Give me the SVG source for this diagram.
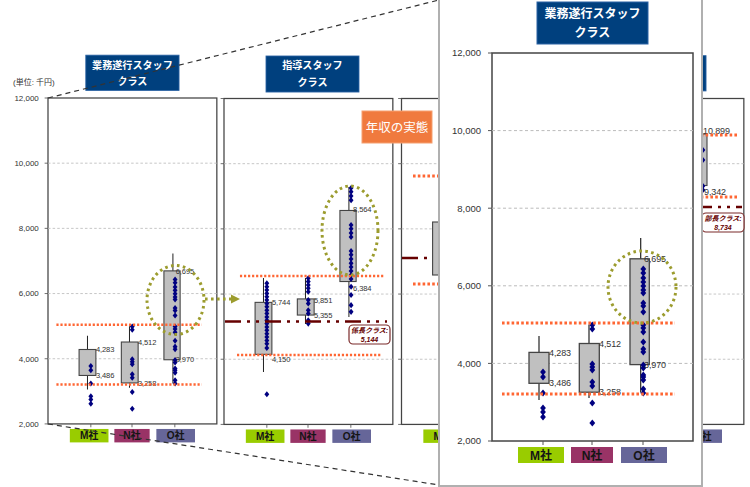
<svg xmlns="http://www.w3.org/2000/svg" width="750" height="487" viewBox="0 0 750 487">
<style>
.tk{font-family:'Liberation Sans',sans-serif;font-size:9.5px;fill:#333;text-anchor:end}
.vl{font-family:'Liberation Sans',sans-serif;font-size:9px;fill:#333;letter-spacing:-0.1px}
.cat{font-family:'Liberation Sans','Noto Sans CJK JP',sans-serif;font-size:12px;font-weight:bold;fill:#151515;text-anchor:middle}
.ttl{font-family:'Noto Sans CJK JP',sans-serif;font-size:12px;font-weight:bold;fill:#fff;text-anchor:middle}
.tbox{fill:#00407e;stroke:#2a62a4;stroke-width:1}
.wh line{stroke:#222;stroke-width:1.2}
.bx rect{fill:#c0c0c0;stroke:#444;stroke-width:1.3}
.or{stroke:#ff6633;stroke-width:3;stroke-dasharray:2.6,2.2;fill:none}
.gr{fill:none;stroke:#9c9c2e;stroke-width:3;stroke-dasharray:2.6,3.4}
.dd{stroke:#660000;stroke-width:2.6;stroke-dasharray:16,6,3,6,3,6;fill:none}
.lb{fill:#fff;stroke:#7b2a2a;stroke-width:1.2}
.lbt{font-family:'Liberation Sans','Noto Sans CJK JP',sans-serif;font-size:7px;font-weight:bold;font-style:italic;fill:#660000;text-anchor:middle}
.cn{stroke:#333;stroke-width:1.2;stroke-dasharray:5,4;fill:none}
</style>
<defs>
<path id="dm" d="M0,-3.6L2.9,0L0,3.6L-2.9,0Z" fill="#000080"/>
<g id="frame">
<rect x="0" y="0" width="201" height="388" fill="#fff" stroke="#444" stroke-width="1.5"/>
<g stroke="#bbb" stroke-width="1" stroke-dasharray="3,2.5">
<line x1="0" y1="77.6" x2="201" y2="77.6"/>
<line x1="0" y1="155.2" x2="201" y2="155.2"/>
<line x1="0" y1="232.8" x2="201" y2="232.8"/>
<line x1="0" y1="310.4" x2="201" y2="310.4"/>
</g>
<path d="M-4,0H0M-4,77.6H0M-4,155.2H0M-4,232.8H0M-4,310.4H0M-4,388H0M51,388V392M100,388V392M151,388V392" stroke="#555" stroke-width="1"/>
<rect x="26" y="394" width="46" height="16" fill="#99cc00"/>
<rect x="79" y="394" width="42" height="16" fill="#993366"/>
<rect x="129" y="394" width="46" height="16" fill="#666699"/>
<text class="cat" x="49" y="406.5">M社</text>
<text class="cat" x="100" y="406.5">N社</text>
<text class="cat" x="152" y="406.5">O社</text>
</g>
<g id="chartA">
<use href="#frame"/>
<g>
<text class="tk" x="-11" y="3.4">12,000</text>
<text class="tk" x="-11" y="81">10,000</text>
<text class="tk" x="-11" y="158.6">8,000</text>
<text class="tk" x="-11" y="236.2">6,000</text>
<text class="tk" x="-11" y="313.8">4,000</text>
<text class="tk" x="-11" y="391.4">2,000</text>
</g>
<rect class="tbox" x="45" y="-51" width="111" height="42"/>
<text class="ttl" x="100.5" y="-34.7">業務遂行スタッフ</text>
<text class="ttl" x="100.5" y="-15.7">クラス</text>
<g class="wh">
<line x1="47" y1="283" x2="47" y2="347"/>
<line x1="97" y1="271.6" x2="97" y2="345"/>
<line x1="148.7" y1="185" x2="148.7" y2="339.5"/>
</g>
<g class="bx">
<rect x="37" y="299.4" width="20" height="30.9"/>
<rect x="87.3" y="290.5" width="20" height="48.7"/>
<rect x="138" y="205.8" width="19.3" height="105.8"/>
</g>
<g>
<use href="#dm" x="51" y="319"/><use href="#dm" x="51" y="324"/><use href="#dm" x="51" y="340"/><use href="#dm" x="51" y="355"/><use href="#dm" x="51" y="359"/><use href="#dm" x="51" y="364"/>
<use href="#dm" x="100.3" y="272"/><use href="#dm" x="100.3" y="276"/><use href="#dm" x="100.3" y="311"/><use href="#dm" x="100.3" y="314"/><use href="#dm" x="100.3" y="317"/><use href="#dm" x="100.3" y="329"/><use href="#dm" x="100.3" y="333"/><use href="#dm" x="100.3" y="350"/><use href="#dm" x="100.3" y="370"/>
<use href="#dm" x="151.3" y="216"/><use href="#dm" x="151.3" y="220"/><use href="#dm" x="151.3" y="225"/><use href="#dm" x="151.3" y="229"/><use href="#dm" x="151.3" y="233"/><use href="#dm" x="151.3" y="237"/><use href="#dm" x="151.3" y="240"/><use href="#dm" x="151.3" y="250"/><use href="#dm" x="151.3" y="253"/><use href="#dm" x="151.3" y="259"/><use href="#dm" x="151.3" y="272"/><use href="#dm" x="151.3" y="275"/><use href="#dm" x="151.3" y="279"/><use href="#dm" x="151.3" y="289"/><use href="#dm" x="151.3" y="296"/><use href="#dm" x="151.3" y="299"/><use href="#dm" x="151.3" y="312"/><use href="#dm" x="151.3" y="315"/><use href="#dm" x="151.3" y="322"/><use href="#dm" x="151.3" y="324"/><use href="#dm" x="151.3" y="327"/><use href="#dm" x="151.3" y="336"/><use href="#dm" x="151.3" y="340"/>
</g>
<g>
<text class="vl" x="57" y="302.6">4,283</text>
<text class="vl" x="57" y="333.4">3,486</text>
<text class="vl" x="107" y="293.7">4,512</text>
<text class="vl" x="107" y="342.4">3,258</text>
<text class="vl" x="152" y="209">6,695</text>
<text class="vl" x="152" y="314.8">3,970</text>
</g>
<line class="or" x1="10" y1="270" x2="183" y2="270"/>
<line class="or" x1="10" y1="341" x2="183" y2="341"/>
</g>
</defs>

<g id="panel-left">
<use href="#chartA" transform="translate(48,98) scale(0.84)"/>
<text x="13" y="85" font-family="'Liberation Sans','Noto Sans CJK JP',sans-serif" font-size="8" fill="#333">(単位: 千円)</text>
<ellipse class="gr" cx="175.5" cy="300" rx="28.5" ry="34.5"/>
</g>

<g id="panel-middle">
<g transform="translate(224,98.5) scale(0.84)">
<use href="#frame"/>
<rect class="tbox" x="50" y="-50.6" width="110.7" height="42.9"/>
<text class="ttl" x="105.3" y="-34.7">指導スタッフ</text>
<text class="ttl" x="105.3" y="-15">クラス</text>
<g class="wh">
<line x1="47" y1="213.7" x2="47" y2="325.6"/>
<line x1="97" y1="213.7" x2="97" y2="268.5"/>
<line x1="148.7" y1="105.4" x2="148.7" y2="260"/>
</g>
<g class="bx">
<rect x="37" y="242.7" width="20" height="61.9"/>
<rect x="87.3" y="238.6" width="20" height="19.2"/>
<rect x="138" y="133.3" width="19.3" height="84.6"/>
</g>
<g>
<use href="#dm" x="51" y="220"/><use href="#dm" x="51" y="224"/><use href="#dm" x="51" y="228"/><use href="#dm" x="51" y="232"/><use href="#dm" x="51" y="236"/><use href="#dm" x="51" y="240"/><use href="#dm" x="51" y="244"/><use href="#dm" x="51" y="248"/><use href="#dm" x="51" y="252"/><use href="#dm" x="51" y="256"/><use href="#dm" x="51" y="260"/><use href="#dm" x="51" y="264"/><use href="#dm" x="51" y="268"/><use href="#dm" x="51" y="272"/><use href="#dm" x="51" y="276"/><use href="#dm" x="51" y="280"/><use href="#dm" x="51" y="284"/><use href="#dm" x="51" y="288"/><use href="#dm" x="51" y="292"/><use href="#dm" x="51" y="297"/><use href="#dm" x="51" y="352"/>
<use href="#dm" x="100.3" y="214"/><use href="#dm" x="100.3" y="218"/><use href="#dm" x="100.3" y="222"/><use href="#dm" x="100.3" y="226"/><use href="#dm" x="100.3" y="230"/><use href="#dm" x="100.3" y="240"/><use href="#dm" x="100.3" y="244"/><use href="#dm" x="100.3" y="252"/><use href="#dm" x="100.3" y="256"/><use href="#dm" x="100.3" y="264"/><use href="#dm" x="100.3" y="268"/>
<use href="#dm" x="151.3" y="106.5"/><use href="#dm" x="151.3" y="111"/><use href="#dm" x="151.3" y="116"/><use href="#dm" x="151.3" y="121"/><use href="#dm" x="151.3" y="150.6"/><use href="#dm" x="151.3" y="155"/><use href="#dm" x="151.3" y="160"/><use href="#dm" x="151.3" y="165"/><use href="#dm" x="151.3" y="181.5"/><use href="#dm" x="151.3" y="186"/><use href="#dm" x="151.3" y="191"/><use href="#dm" x="151.3" y="196"/><use href="#dm" x="151.3" y="200.6"/><use href="#dm" x="151.3" y="205.4"/><use href="#dm" x="151.3" y="210"/><use href="#dm" x="151.3" y="215"/><use href="#dm" x="151.3" y="224"/><use href="#dm" x="151.3" y="234"/><use href="#dm" x="151.3" y="246"/><use href="#dm" x="151.3" y="254"/>
</g>
<g>
<text class="vl" x="57" y="245.9">5,744</text>
<text class="vl" x="57" y="314.2">4,150</text>
<text class="vl" x="107" y="243.2">5,851</text>
<text class="vl" x="107" y="260.9">5,355</text>
<text class="vl" x="153.6" y="134.7">8,564</text>
<text class="vl" x="153.6" y="228.8">6,384</text>
</g>
<line class="or" x1="19" y1="211.3" x2="191.7" y2="211.3"/>
<line class="or" x1="15.5" y1="305.4" x2="188" y2="305.4"/>
</g>
<ellipse class="gr" cx="350" cy="230.5" rx="28" ry="44.5"/>
<line class="dd" x1="225" y1="321.5" x2="387" y2="321.5"/>
<rect class="lb" x="349" y="325" width="41" height="19" rx="4"/>
<text class="lbt" x="369.5" y="333">係長クラス:</text>
<text class="lbt" x="369.5" y="342">5,144</text>
</g>

<g id="panel-3">
<g transform="translate(401.5,98.5) scale(0.84)">
<use href="#frame"/>
</g>
<line class="or" x1="413" y1="176" x2="560" y2="176"/>
<line class="dd" x1="402" y1="258" x2="560" y2="258"/>
<rect x="432.6" y="222" width="16.8" height="53" fill="#c0c0c0" stroke="#444" stroke-width="1.1"/>
<line class="or" x1="413" y1="284" x2="560" y2="284"/>
</g>

<g id="panel-4">
<g transform="translate(575,98.5) scale(0.84)">
<use href="#frame"/>
<rect class="tbox" x="45" y="-51" width="111" height="42"/>
</g>
<rect x="691" y="134" width="16" height="51.5" fill="#c0c0c0" stroke="#444" stroke-width="1.1"/>
<use href="#dm" x="702.5" y="150"/>
<use href="#dm" x="702.5" y="160"/>
<use href="#dm" x="702.5" y="186"/>
<use href="#dm" x="702.5" y="190"/>
<text class="vl" x="703" y="134" font-size="8">10,899</text>
<text class="vl" x="704" y="195" font-size="8">9,342</text>
<line class="or" x1="600" y1="135" x2="737" y2="135"/>
<line class="or" x1="600" y1="197" x2="737" y2="197"/>
<line class="dd" x1="576" y1="207" x2="742" y2="207"/>
<rect class="lb" x="702" y="213" width="42" height="19" rx="4"/>
<text class="lbt" x="723" y="221">部長クラス:</text>
<text class="lbt" x="723" y="230">8,734</text>
</g>

<g id="label-nenshu">
<rect x="362" y="111" width="70" height="32" fill="#f07a3e" stroke="#f5a070" stroke-width="1"/>
<text x="397" y="131.5" font-family="'Noto Sans CJK JP',sans-serif" font-size="12.5" fill="#fff" text-anchor="middle">年収の実態</text>
</g>

<g id="connectors">
<path class="cn" d="M48,98L439,0"/>
<path class="cn" d="M48,424L439,485"/>
<line class="gr" x1="205" y1="299" x2="231" y2="299"/>
<polygon points="231,294.5 240,299 231,303.5" fill="#9c9c2e"/>
</g>

<g id="panel-zoom">
<rect x="439" y="-3" width="263" height="489" fill="#fff" stroke="#b0b0b0" stroke-width="2"/>
<use href="#chartA" transform="translate(492,53)"/>
<ellipse class="gr" cx="642" cy="287" rx="34" ry="36"/>
</g>
</svg>
